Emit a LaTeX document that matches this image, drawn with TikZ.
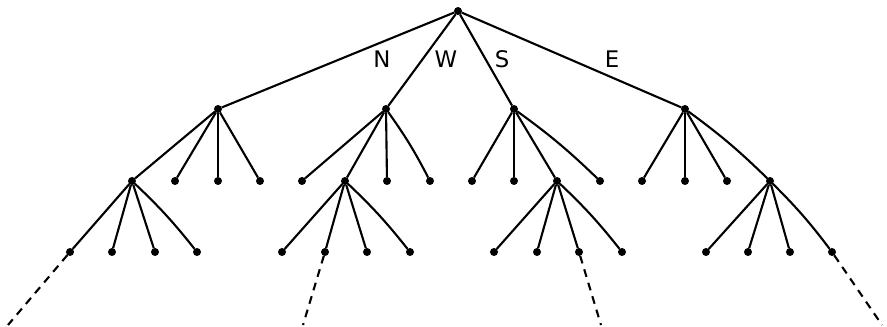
\documentclass[tikz,border=0pt]{standalone}
\usepackage{fontspec}
\setsansfont{DejaVu Sans}
\usetikzlibrary{positioning}
\tikzstyle{vertex}    = [circle, fill=black, draw=none, minimum size=0.16cm, inner sep=0pt, outer sep=0pt]
\tikzstyle{edge}      = [line width=1.2pt]
\tikzstyle{bentedge}  = [line width=1.2pt, bend left=4]
\tikzstyle{moreedge}  = [line width=1.2pt, dash pattern=on 4.5pt off 3.5pt]
\tikzstyle{dirlabel}  = [font=\sffamily\fontsize{13}{15}\selectfont, inner sep=0pt]

\begin{document}
\begin{tikzpicture}[x=0.02cm, y=-0.02cm]

\useasboundingbox (0,0) rectangle (887,327);

% root
\node[vertex] (R)   at (458,11) {};

% level 1
\node[vertex] (A)   at (218,109) {};
\node[vertex] (B)   at (386,109) {};
\node[vertex] (C)   at (514,109) {};
\node[vertex] (D)   at (685,109) {};

% level 2
\node[vertex] (A1)  at (132,181) {};
\node[vertex] (A2)  at (175,181) {};
\node[vertex] (A3)  at (218,181) {};
\node[vertex] (A4)  at (260,181) {};

\node[vertex] (B1)  at (302,181) {};
\node[vertex] (B2)  at (345,181) {};
\node[vertex] (B3)  at (387,181) {};
\node[vertex] (B4)  at (430,181) {};

\node[vertex] (C1)  at (472,181) {};
\node[vertex] (C2)  at (514,181) {};
\node[vertex] (C3)  at (557,181) {};
\node[vertex] (C4)  at (600,181) {};

\node[vertex] (D1)  at (642,181) {};
\node[vertex] (D2)  at (685,181) {};
\node[vertex] (D3)  at (727,181) {};
\node[vertex] (D4)  at (770,181) {};

% level 3
\node[vertex] (A11) at (70,252) {};
\node[vertex] (A12) at (112,252) {};
\node[vertex] (A13) at (155,252) {};
\node[vertex] (A14) at (197,252) {};

\node[vertex] (B21) at (282,252) {};
\node[vertex] (B22) at (325,252) {};
\node[vertex] (B23) at (367,252) {};
\node[vertex] (B24) at (410,252) {};

\node[vertex] (C31) at (494,252) {};
\node[vertex] (C32) at (537,252) {};
\node[vertex] (C33) at (579,252) {};
\node[vertex] (C34) at (622,252) {};

\node[vertex] (D41) at (706,252) {};
\node[vertex] (D42) at (748,252) {};
\node[vertex] (D43) at (790,252) {};
\node[vertex] (D44) at (832,252) {};

% loose ends
\coordinate (XA) at (8,325);
\coordinate (XB) at (303,325);
\coordinate (XC) at (601,325);
\coordinate (XD) at (882,325);

% labels
\node[dirlabel] (lN) at (382,59) {N};
\node[dirlabel] (lW) at (446,59) {W};
\node[dirlabel] (lS) at (502,59) {S};
\node[dirlabel] (lE) at (612,59) {E};

\draw[edge] (R) -- (A);
\draw[edge] (R) -- (B);
\draw[edge] (R) -- (C);
\draw[edge] (R) -- (D);

\draw[edge] (A) -- (A1);
\draw[edge] (A) -- (A2);
\draw[edge] (A) -- (A3);
\draw[edge] (A) -- (A4);

\draw[edge] (B) -- (B1);
\draw[edge] (B) -- (B2);
\draw[edge] (B) -- (B3);
\draw[bentedge] (B) to (B4);

\draw[edge] (C) -- (C1);
\draw[edge] (C) -- (C2);
\draw[edge] (C) -- (C3);
\draw[bentedge] (C) to (C4);

\draw[edge] (D) -- (D1);
\draw[edge] (D) -- (D2);
\draw[edge] (D) -- (D3);
\draw[bentedge] (D) to (D4);

\draw[edge] (A1) -- (A11);
\draw[edge] (A1) -- (A12);
\draw[edge] (A1) -- (A13);
\draw[bentedge] (A1) to (A14);

\draw[edge] (B2) -- (B21);
\draw[edge] (B2) -- (B22);
\draw[edge] (B2) -- (B23);
\draw[bentedge] (B2) to (B24);

\draw[edge] (C3) -- (C31);
\draw[edge] (C3) -- (C32);
\draw[edge] (C3) -- (C33);
\draw[bentedge] (C3) to (C34);

\draw[edge] (D4) -- (D41);
\draw[edge] (D4) -- (D42);
\draw[edge] (D4) -- (D43);
\draw[bentedge] (D4) to (D44);

\draw[moreedge] (A11) -- (XA);
\draw[moreedge] (B22) -- (XB);
\draw[moreedge] (C33) -- (XC);
\draw[moreedge] (D44) -- (XD);

\end{tikzpicture}
\end{document}
